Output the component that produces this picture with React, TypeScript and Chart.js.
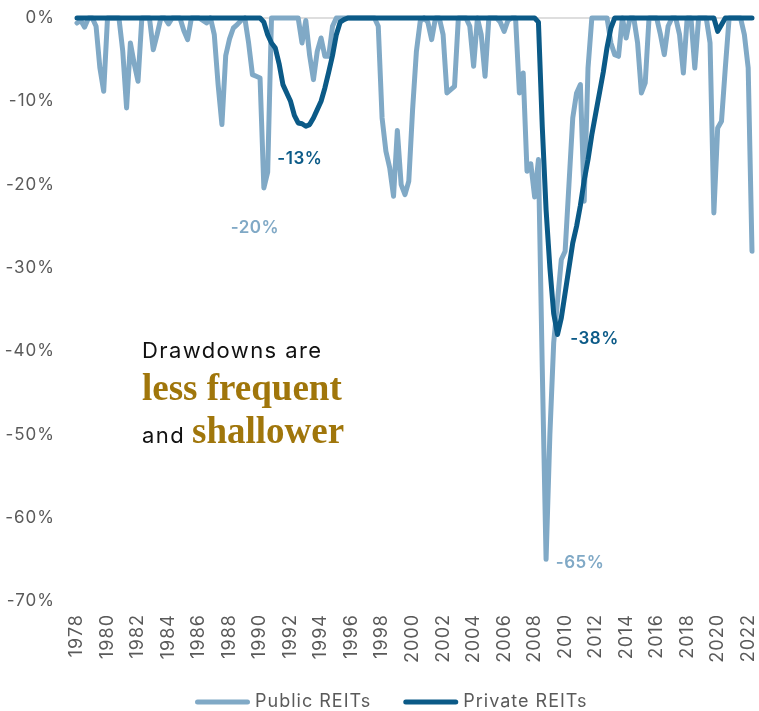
import React, { useEffect, useRef } from "react";
import { Chart, registerables } from "chart.js";

Chart.register(...registerables);

const FIRST_YEAR = 1978;

// Quarterly drawdown from prior peak (%), 1978 Q1 – 2022 Q2
const PUBLIC_REITS: number[] = [
  -0.6, -0.3, -1.1, 0, // 1978
  0, -1, -6, -8.8, // 1979
  0, 0, 0, 0, // 1980
  -4, -10.8, -3, -5.5, // 1981
  -7.6, 0, 0, 0, // 1982
  -3.8, -2, 0, 0, // 1983
  -0.7, 0, 0, 0, // 1984
  -1.5, -2.6, 0, 0, // 1985
  0, -0.3, -0.6, 0, // 1986
  -2, -8, -12.8, -4.5, // 1987
  -2.5, -1.2, -0.8, -0.3, // 1988
  0, -3, -6.8, -7, // 1989
  -7.2, -20.4, -18.5, 0, // 1990
  0, 0, 0, 0, // 1991
  0, 0, 0, -3, // 1992
  -0.3, -4.5, -7.4, -4, // 1993
  -2.4, -4.6, -4.6, -1, // 1994
  0, 0, 0, 0, // 1995
  0, 0, 0, 0, // 1996
  0, 0, 0, -1, // 1997
  -12, -16, -18, -21.4, // 1998
  -13.5, -20, -21.2, -19.6, // 1999
  -11, -4, -0.4, 0, // 2000
  -0.5, -2.6, 0, 0, // 2001
  -2, -9, -8.6, -8.2, // 2002
  0, 0, 0, -1, // 2003
  -5.8, 0, -2, -7, // 2004
  0, 0, 0, -0.5, // 2005
  -1.6, -0.3, 0, 0, // 2006
  -9, -6.6, -18.4, -17.5, // 2007
  -21.5, -17, -42, -65, // 2008
  -50, -39, -34, -29, // 2009
  -28, -20, -12, -9, // 2010
  -8, -22, -6, 0, // 2011
  0, 0, 0, 0, // 2012
  -3, -4.4, -4.6, 0, // 2013
  -2.4, 0, 0, -3, // 2014
  -9, -7.8, 0, 0, // 2015
  0, -2, -4.4, -1, // 2016
  0, 0, -2, -6.6, // 2017
  0, 0, -6, 0, // 2018
  0, 0, -3, -23.4, // 2019
  -13.2, -12.4, -6, 0, // 2020
  0, 0, 0, -2, // 2021
  -6, -28, // 2022
];

const PRIVATE_REITS: number[] = [
  0, 0, 0, 0, // 1978
  0, 0, 0, 0, // 1979
  0, 0, 0, 0, // 1980
  0, 0, 0, 0, // 1981
  0, 0, 0, 0, // 1982
  0, 0, 0, 0, // 1983
  0, 0, 0, 0, // 1984
  0, 0, 0, 0, // 1985
  0, 0, 0, 0, // 1986
  0, 0, 0, 0, // 1987
  0, 0, 0, 0, // 1988
  0, 0, 0, 0, // 1989
  0, -0.5, -2, -3, // 1990
  -3.6, -5.5, -8, -9, // 1991
  -10, -11.7, -12.6, -12.7, // 1992
  -13, -12.8, -12, -11, // 1993
  -10, -8.4, -6.5, -4.5, // 1994
  -2, -0.5, -0.2, 0, // 1995
  0, 0, 0, 0, // 1996
  0, 0, 0, 0, // 1997
  0, 0, 0, 0, // 1998
  0, 0, 0, 0, // 1999
  0, 0, 0, 0, // 2000
  0, 0, 0, 0, // 2001
  0, 0, 0, 0, // 2002
  0, 0, 0, 0, // 2003
  0, 0, 0, 0, // 2004
  0, 0, 0, 0, // 2005
  0, 0, 0, 0, // 2006
  0, 0, 0, 0, // 2007
  0, -0.5, -13, -23, // 2008
  -30, -35.5, -38, -36, // 2009
  -33, -30, -27, -25, // 2010
  -22.5, -19.5, -17, -14, // 2011
  -11.5, -9, -6.5, -3.5, // 2012
  -1.2, 0, 0, 0, // 2013
  0, 0, 0, 0, // 2014
  0, 0, 0, 0, // 2015
  0, 0, 0, 0, // 2016
  0, 0, 0, 0, // 2017
  0, 0, 0, 0, // 2018
  0, 0, 0, 0, // 2019
  -1.6, -0.8, 0, 0, // 2020
  0, 0, 0, 0, // 2021
  0, 0, // 2022
];

const QUARTERS: string[] = PUBLIC_REITS.map(
  (_, i) => `${FIRST_YEAR + Math.floor(i / 4)} Q${(i % 4) + 1}`
);

const YEAR_TICKS: string[] = [
  "1978", "1980", "1982", "1984", "1986", "1988", "1990", "1992",
  "1994", "1996", "1998", "2000", "2002", "2004", "2006", "2008",
  "2010", "2012", "2014", "2016", "2018", "2020", "2022",
];

const Y_MIN = -70;
const Y_MAX = 0;
const Y_STEP = 10;

const SERIES_NAMES = ["Public REITs", "Private REITs"];

const PUBLIC_COLOR = "#80a9c6";
const PRIVATE_COLOR = "#0b5a87";
const GOLD = "#a0760b";
const AXIS_TEXT = "#5a5a5a";
const SANS = "Inter, 'Noto Sans', sans-serif";
const SERIF = "'Liberation Serif', 'DejaVu Serif', serif";

// Trough labels: which dataset, which quarter range to search, and label offset
const TROUGH_NOTES = [
  { dataset: 1, from: 40, to: 80, dx: -6, dy: 33, color: PRIVATE_COLOR },
  { dataset: 0, from: 40, to: 60, dx: -9, dy: 40, color: PUBLIC_COLOR },
  { dataset: 1, from: 110, to: 150, dx: 37, dy: 4, color: PRIVATE_COLOR },
  { dataset: 0, from: 110, to: 150, dx: 34, dy: 4, color: PUBLIC_COLOR },
];

// Wider tracking for every sans label on the canvas
const spacingPlugin = {
  id: "letterSpacing",
  beforeDraw(chart: any) {
    chart.ctx.letterSpacing = "1px";
  },
};

const notesPlugin = {
  id: "drawdownNotes",
  afterDatasetsDraw(chart: any) {
    const { ctx, chartArea } = chart;
    const xs = chart.scales.x;
    const ys = chart.scales.y;
    ctx.save();
    ctx.textAlign = "center";
    ctx.textBaseline = "middle";
    ctx.letterSpacing = "0.5px";
    ctx.font = `600 17px ${SANS}`;
    for (const n of TROUGH_NOTES) {
      const data = chart.data.datasets[n.dataset].data as number[];
      let idx = n.from;
      for (let i = n.from; i <= n.to; i++) if (data[i] < data[idx]) idx = i;
      const v = data[idx];
      ctx.fillStyle = n.color;
      ctx.fillText(
        `${Math.round(v)}%`,
        xs.getPixelForValue(idx) + n.dx,
        ys.getPixelForValue(v) + n.dy
      );
    }

    // Callout text block
    const left = chartArea.left + 65;
    const top = chartArea.top;
    ctx.textAlign = "left";
    ctx.textBaseline = "alphabetic";
    ctx.fillStyle = "#111111";
    ctx.letterSpacing = "1.4px";
    ctx.font = `22px ${SANS}`;
    ctx.fillText("Drawdowns are", left, top + 340);
    ctx.fillText("and", left, top + 425);
    const andW = ctx.measureText("and").width;
    ctx.fillStyle = GOLD;
    ctx.letterSpacing = "0px";
    ctx.font = `bold 37px ${SERIF}`;
    ctx.fillText("less frequent", left, top + 382);
    ctx.fillText("shallower", left + andW + 7, top + 425);
    ctx.restore();
  },
};

const legendPlugin = {
  id: "lineLegend",
  afterDraw(chart: any) {
    const { ctx } = chart;
    const swatchW = 55;
    const swatchH = 5;
    const yMid = 702;
    let x = 195;
    ctx.save();
    ctx.letterSpacing = "1px";
    ctx.font = `18px ${SANS}`;
    ctx.textBaseline = "middle";
    ctx.textAlign = "left";
    SERIES_NAMES.forEach((name) => {
      const ds = chart.data.datasets.find((d: any) => d.label === name);
      ctx.fillStyle = ds.borderColor;
      ctx.beginPath();
      ctx.roundRect(x, yMid - swatchH / 2, swatchW, swatchH, swatchH / 2);
      ctx.fill();
      ctx.fillStyle = AXIS_TEXT;
      ctx.fillText(name, x + swatchW + 5, yMid);
      x += swatchW + 5 + ctx.measureText(name).width + 32;
    });
    ctx.restore();
  },
};

export default function App() {
  const canvasRef = useRef<HTMLCanvasElement | null>(null);

  useEffect(() => {
    const canvas = canvasRef.current;
    if (!canvas) return;
    const chart = new Chart(canvas, {
      type: "line",
      data: {
        labels: QUARTERS,
        datasets: [
          {
            label: SERIES_NAMES[0],
            data: PUBLIC_REITS,
            borderColor: PUBLIC_COLOR,
            backgroundColor: PUBLIC_COLOR,
            borderWidth: 5,
            pointRadius: 0,
            tension: 0,
            borderJoinStyle: "round",
            borderCapStyle: "round",
            order: 1,
            clip: false,
          },
          {
            label: SERIES_NAMES[1],
            data: PRIVATE_REITS,
            borderColor: PRIVATE_COLOR,
            backgroundColor: PRIVATE_COLOR,
            borderWidth: 5,
            pointRadius: 0,
            tension: 0,
            borderJoinStyle: "round",
            borderCapStyle: "round",
            order: 0,
            clip: false,
          },
        ],
      },
      options: {
        responsive: false,
        animation: false,
        layout: { padding: { top: 18, right: 7, bottom: 0, left: 0 } },
        plugins: {
          legend: { display: false },
          tooltip: { enabled: false },
        },
        scales: {
          x: {
            type: "category",
            offset: false,
            grid: { display: false, drawTicks: false },
            border: { display: false },
            ticks: {
              autoSkip: false,
              minRotation: 90,
              maxRotation: 90,
              padding: 13,
              color: AXIS_TEXT,
              font: { family: SANS, size: 18 },
              callback(this: any, value: any) {
                const label: string = this.getLabelForValue(value);
                const [year, q] = label.split(" ");
                return q === "Q1" && YEAR_TICKS.includes(year) ? year : "";
              },
            },
            afterFit(scale: any) {
              scale.height = 110;
              scale.paddingLeft = 0;
              scale.paddingRight = 0;
            },
          },
          y: {
            min: Y_MIN,
            max: Y_MAX,
            grid: {
              drawTicks: false,
              lineWidth: 2,
              color: (c: any) => (c.tick && c.tick.value === 0 ? "#dedede" : "rgba(0,0,0,0)"),
            },
            border: { display: false },
            ticks: {
              stepSize: Y_STEP,
              padding: 22,
              color: AXIS_TEXT,
              font: { family: SANS, size: 17 },
              callback: (v: any) => `${v}%`,
            },
            afterFit(scale: any) {
              scale.width = 77;
              scale.paddingTop = 0;
              scale.paddingBottom = 0;
            },
          },
        },
      },
      plugins: [spacingPlugin, notesPlugin, legendPlugin],
    });
    return () => chart.destroy();
  }, []);

  return (
    <div style={{ position: "absolute", left: 0, top: 0, width: 759, height: 711 }}>
      <canvas ref={canvasRef} width={759} height={711} style={{ display: "block" }} />
    </div>
  );
}
